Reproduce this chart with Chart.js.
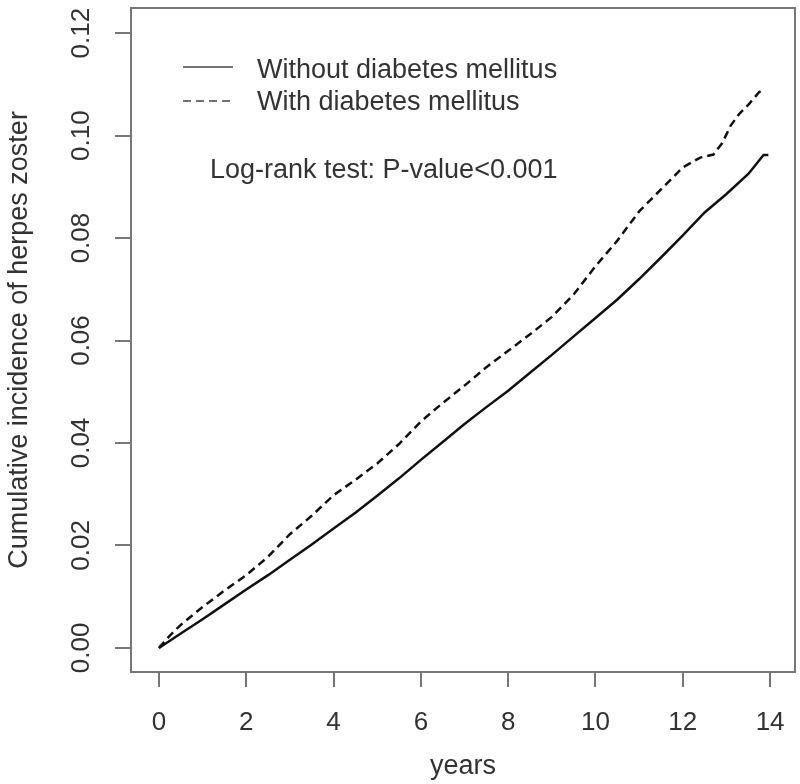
<!DOCTYPE html>
<html lang="en">
<head>
  <meta charset="UTF-8" />
  <title>Cumulative incidence of herpes zoster</title>
  <script src="https://cdn.jsdelivr.net/npm/chart.js"></script>
  <style>
    html, body { margin: 0; padding: 0; background: #fff; }
    canvas { display: block; }
  </style>
</head>
<body>
  <canvas id="chart" width="800" height="784"></canvas>

  <script>
    // Kaplan-Meier style cumulative incidence
    const yearsWithout = [0, 0.5, 1, 1.5, 2, 2.5, 3, 3.5, 4, 4.5, 5, 5.5, 6, 6.5, 7, 7.5, 8, 8.5, 9, 9.5, 10, 10.5, 11, 11.5, 12, 12.5, 13, 13.5, 13.85, 13.96];
    const incWithout = [0, 0.0028, 0.0056, 0.0085, 0.0114, 0.0142, 0.0172, 0.0202, 0.0233, 0.0264, 0.0297, 0.0331, 0.0367, 0.0402, 0.0437, 0.0470, 0.0502, 0.0537, 0.0572, 0.0608, 0.0644, 0.0680, 0.0720, 0.0762, 0.0805, 0.0850, 0.0886, 0.0925, 0.0962, 0.0962];

    const yearsWith = [0, 0.25, 0.5, 1, 1.5, 2, 2.5, 3, 3.5, 4, 4.5, 5, 5.5, 6, 6.5, 7, 7.5, 8, 8.5, 9, 9.5, 10, 10.5, 11, 11.5, 12, 12.4, 12.7, 12.9, 13.1, 13.3, 13.5, 13.75, 13.82];
    const incWith = [0, 0.0024, 0.0045, 0.0080, 0.0112, 0.0142, 0.0178, 0.0222, 0.0258, 0.0298, 0.0328, 0.0360, 0.0398, 0.0442, 0.0478, 0.0512, 0.0548, 0.0580, 0.0612, 0.0646, 0.0690, 0.0745, 0.0795, 0.0852, 0.0895, 0.0938, 0.0957, 0.0963, 0.0985, 0.1020, 0.1043, 0.1060, 0.1085, 0.1088];

    const seriesNames = ["Without diabetes mellitus", "With diabetes mellitus"];
    const xTickValues = [0, 2, 4, 6, 8, 10, 12, 14];
    const yTickValues = [0, 0.02, 0.04, 0.06, 0.08, 0.10, 0.12];
    const noteText = "Log-rank test: P-value<0.001";

    const AXIS_GRAY = "#777";
    const TEXT = "#333";
    const FONT = "'Liberation Sans', Arial, sans-serif";

    const toPoints = (xs, ys) => xs.map((x, i) => ({ x, y: ys[i] }));

    // box, legend and note drawn R-style on top of the plot
    const rStyle = {
      id: "rStyle",
      afterDraw(chart) {
        const { ctx, chartArea: a } = chart;
        ctx.save();
        ctx.strokeStyle = AXIS_GRAY;
        ctx.lineWidth = 2;
        ctx.strokeRect(a.left, a.top, a.right - a.left, a.bottom - a.top);

        ctx.font = "27px " + FONT;
        ctx.fillStyle = TEXT;
        ctx.textBaseline = "alphabetic";
        ctx.textAlign = "left";
        const rows = [{ y: 67, base: 78 }, { y: 101, base: 110 }];
        chart.data.datasets.forEach((ds, i) => {
          ctx.strokeStyle = "#444";
          ctx.lineWidth = 1.5;
          ctx.setLineDash(ds.borderDash || []);
          ctx.beginPath();
          ctx.moveTo(183, rows[i].y);
          ctx.lineTo(233, rows[i].y);
          ctx.stroke();
          ctx.fillText(ds.label, 257, rows[i].base);
        });
        ctx.setLineDash([]);
        ctx.fillText(noteText, 210, 178);
        ctx.restore();
      }
    };

    new Chart(document.getElementById("chart"), {
      type: "scatter",
      data: {
        datasets: [
          {
            label: seriesNames[0],
            data: toPoints(yearsWithout, incWithout),
            showLine: true,
            borderColor: "#111",
            borderWidth: 2.5,
            pointRadius: 0,
            tension: 0
          },
          {
            label: seriesNames[1],
            data: toPoints(yearsWith, incWith),
            showLine: true,
            borderColor: "#111",
            borderWidth: 2.5,
            borderDash: [8, 5],
            pointRadius: 0,
            tension: 0
          }
        ]
      },
      options: {
        responsive: false,
        animation: false,
        layout: { padding: { top: 8, right: 5, left: 0, bottom: 0 }, autoPadding: false },
        plugins: {
          legend: { display: false },
          tooltip: { enabled: false }
        },
        scales: {
          x: {
            type: "linear",
            min: -0.64,
            max: 14.57,
            afterBuildTicks: s => { s.ticks = xTickValues.map(v => ({ value: v })); },
            afterFit: s => { s.height = 112; s.paddingLeft = 0; s.paddingRight = 0; },
            grid: { drawOnChartArea: false, drawTicks: true, tickLength: 15, color: AXIS_GRAY, lineWidth: 2 },
            border: { display: true, color: AXIS_GRAY, width: 2 },
            ticks: {
              padding: 20,
              color: TEXT,
              font: { size: 26, family: FONT },
              maxRotation: 0,
              callback: v => String(v)
            },
            title: {
              display: true,
              text: "years",
              color: TEXT,
              font: { size: 27, family: FONT },
              padding: { top: 0, bottom: 1 }
            }
          },
          y: {
            type: "linear",
            min: -0.0047,
            max: 0.1249,
            afterBuildTicks: s => { s.ticks = yTickValues.map(v => ({ value: v })); },
            afterFit: s => { s.width = 131; s.paddingTop = 0; s.paddingBottom = 0; },
            grid: { drawOnChartArea: false, drawTicks: true, tickLength: 16, color: AXIS_GRAY, lineWidth: 2 },
            border: { display: true, color: AXIS_GRAY, width: 2 },
            ticks: {
              padding: 8,
              color: TEXT,
              crossAlign: "center",
              minRotation: 90,
              maxRotation: 90,
              font: { size: 26, family: FONT },
              callback: v => v.toFixed(2)
            },
            title: {
              display: true,
              text: "Cumulative incidence of herpes zoster",
              color: TEXT,
              font: { size: 27, family: FONT },
              padding: { top: 3, bottom: 0 }
            }
          }
        }
      },
      plugins: [rStyle]
    });
  </script>
</body>
</html>
